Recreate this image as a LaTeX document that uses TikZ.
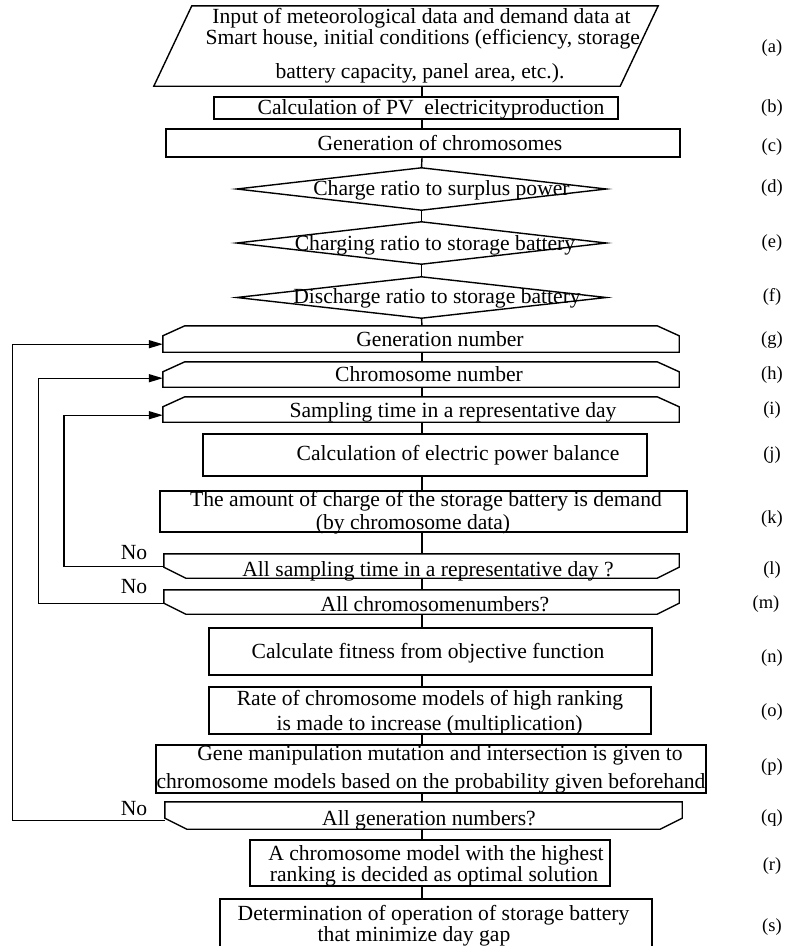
\documentclass[tikz,border=0pt]{standalone}
\usepackage{fontspec}
\setmainfont{Liberation Serif}
\usetikzlibrary{arrows.meta}
\newcommand\placeshape[6]{%
  \pgfmathsetmacro\mycx{(#3+#5)/2}\pgfmathsetmacro\mycy{(#4+#6)/2}%
  \pgfmathsetmacro\myw{#5-#3}\pgfmathsetmacro\myh{#6-#4}%
  \node[#1, minimum width=\myw pt, minimum height=\myh pt] (#2) at (\mycx,\mycy) {};}
\begin{document}
\begin{tikzpicture}[x=1pt,y=-1pt,
  box/.style={draw, line width=1.4pt, rectangle, inner sep=0pt},
  ghost/.style={rectangle, inner sep=0pt, draw=none},
  ln/.style={line width=1.4pt},
  arr/.style={line width=1.4pt, -{Triangle[length=14pt,width=8pt]}},
  txt/.style={inner sep=0pt, font=\fontsize{21.6}{21}\selectfont, anchor=base},
  lbl/.style={inner sep=0pt, font=\fontsize{18.5}{18}\selectfont, anchor=center}]
\useasboundingbox (0,0) rectangle (796,946);
\coordinate (axis) at (422,0);
% shapes
\placeshape{ghost}{a}{154}{6}{658}{86}
\draw[ln] ([xshift=38pt]a.north west) -- (a.north east) -- ([xshift=-38pt]a.south east) -- (a.south west) -- cycle;
\placeshape{box}{b}{214}{97}{618}{119}
\placeshape{box}{c}{166}{129}{680}{157}
\placeshape{ghost}{d}{237}{168}{606}{210}
\placeshape{ghost}{e}{237}{222}{606}{264}
\placeshape{ghost}{f}{237}{277}{606}{318}
\foreach \n in {d,e,f}{\draw[ln] (\n.west) -- (\n.north) -- (\n.east) -- (\n.south) -- cycle;}
\placeshape{ghost}{g}{163}{326}{679}{352}
\placeshape{ghost}{h}{163}{362}{679}{387}
\placeshape{ghost}{i}{163}{397}{679}{422}
\foreach \n in {g,h,i}{\draw[ln] (\n.south west) -- ([yshift=-10pt]\n.north west) -- ([xshift=22pt]\n.north west) -- ([xshift=-22pt]\n.north east) -- ([yshift=-10pt]\n.north east) -- (\n.south east) -- cycle;}
\placeshape{box}{j}{203}{434}{647}{476}
\placeshape{box}{k}{160}{491}{687}{532}
\placeshape{ghost}{l}{164}{554}{679}{578}
\placeshape{ghost}{m}{164}{590}{679}{614}
\placeshape{ghost}{q}{165}{802}{682}{829}
\foreach \n in {l,m,q}{\draw[ln] (\n.north west) -- ([yshift=11pt]\n.south west) -- ([xshift=22pt]\n.south west) -- ([xshift=-22pt]\n.south east) -- ([yshift=11pt]\n.south east) -- (\n.north east) -- cycle;}
\placeshape{box}{n}{209}{628}{652}{675}
\placeshape{box}{o}{209}{687}{651}{734}
\placeshape{box}{p}{156}{745}{706}{793}
\placeshape{box}{r}{250}{840}{610}{886}
\placeshape{box}{s}{220}{899}{652}{948}
% main connectors
\foreach \u/\v in {a/b,b/c,g/h,h/i,i/j,j/k,k/l,l/m,m/n,n/o,o/p,p/q,q/r,r/s}{\draw[ln] (\u.south -| axis) -- (\v.north -| axis);}
\draw[ln] (c.south -| axis) -- (d.north);
\draw[ln] (d.south) -- (e.north);
\draw[ln] (e.south) -- (f.north);
\draw[ln] (f.south) -- (g.north -| axis);
% loop lines
\coordinate (x1) at (12.7,0);
\coordinate (x2) at (38.3,0);
\coordinate (x3) at (64,0);
\coordinate (lL) at ([yshift=12pt]l.south west);
\coordinate (mL) at ([yshift=11pt]m.south west);
\coordinate (qL) at ([yshift=9pt]q.south west);
\coordinate (gL) at ([yshift=8pt]g.south west);
\coordinate (hL) at ([yshift=9pt]h.south west);
\coordinate (iL) at ([yshift=7pt]i.south west);
\draw[arr] (lL) -- (lL -| x3) -- (iL -| x3) -- (iL);
\draw[arr] (mL) -- (mL -| x2) -- (hL -| x2) -- (hL);
\draw[arr] (qL) -- (qL -| x1) -- (gL -| x1) -- (gL);
\node[txt] (no1) at (134,559) {No};
\node[txt] (no2) at (134,593) {No};
\node[txt] (no3) at (134,815) {No};
% texts
\node[txt] (ta1) at (421.5,23) {Input of meteorological data and demand data at};
\node[txt] (ta2) at (422.7,44) {Smart house, initial conditions (efficiency, storage};
\node[txt] (ta3) at (420,78) {battery capacity, panel area, etc.).};
\node[txt] (tb) at (431,114) {Calculation of PV\ \ electricityproduction};
\node[txt] (tc) at (440,150) {Generation of chromosomes};
\node[txt] (td) at (441.5,195) {Charge ratio to surplus power};
\node[txt] (te) at (435,250) {Charging ratio to storage battery};
\node[txt] (tf) at (437,303) {Discharge ratio to storage battery};
\node[txt] (tg) at (440,346.5) {Generation number};
\node[txt] (th) at (429,381.5) {Chromosome number};
\node[txt] (ti) at (453,417) {Sampling time in a representative day};
\node[txt] (tj) at (458,460.5) {Calculation of electric power balance};
\node[txt] (tk1) at (426,506) {The amount of charge of the storage battery is demand};
\node[txt] (tk2) at (413,529) {(by chromosome data)};
\node[txt] (tl) at (428,576) {All sampling time in a representative day ?};
\node[txt] (tm) at (435,611.5) {All chromosomenumbers?};
\node[txt] (tn) at (428,658.5) {Calculate fitness from objective function};
\node[txt] (to1) at (430,705) {Rate of chromosome models of high ranking};
\node[txt] (to2) at (429.5,730) {is made to increase (multiplication)};
\node[txt] (tp1) at (440,760) {Gene manipulation mutation and intersection is given to};
\node[txt] (tp2) at (431,788.5) {chromosome models based on the probability given beforehand};
\node[txt] (tq) at (429,825.5) {All generation numbers?};
\node[txt] (tr1) at (436,860) {A chromosome model with the highest};
\node[txt] (tr2) at (434,881) {ranking is decided as optimal solution};
\node[txt] (ts1) at (433.5,920) {Determination of operation of storage battery};
\node[txt] (ts2) at (414,941) {that minimize day gap};
% side labels
\node[lbl] (la) at (772,48) {(a)};
\node[lbl] (lb) at (772,108) {(b)};
\node[lbl] (lc) at (772,147) {(c)};
\node[lbl] (ld) at (772,188) {(d)};
\node[lbl] (le) at (772,243) {(e)};
\node[lbl] (lf) at (772,297) {(f)};
\node[lbl] (lg) at (772,340) {(g)};
\node[lbl] (lh) at (772,375) {(h)};
\node[lbl] (li) at (772,410) {(i)};
\node[lbl] (lj) at (772,455) {(j)};
\node[lbl] (lk) at (772,519) {(k)};
\node[lbl] (ll) at (772,570) {(l)};
\node[lbl] (lm) at (766,604) {(m)};
\node[lbl] (ln) at (772,658) {(n)};
\node[lbl] (lo) at (772,712) {(o)};
\node[lbl] (lp) at (772,767) {(p)};
\node[lbl] (lq) at (772,818) {(q)};
\node[lbl] (lr) at (772,866) {(r)};
\node[lbl] (ls) at (772,927) {(s)};
\end{tikzpicture}
\end{document}
